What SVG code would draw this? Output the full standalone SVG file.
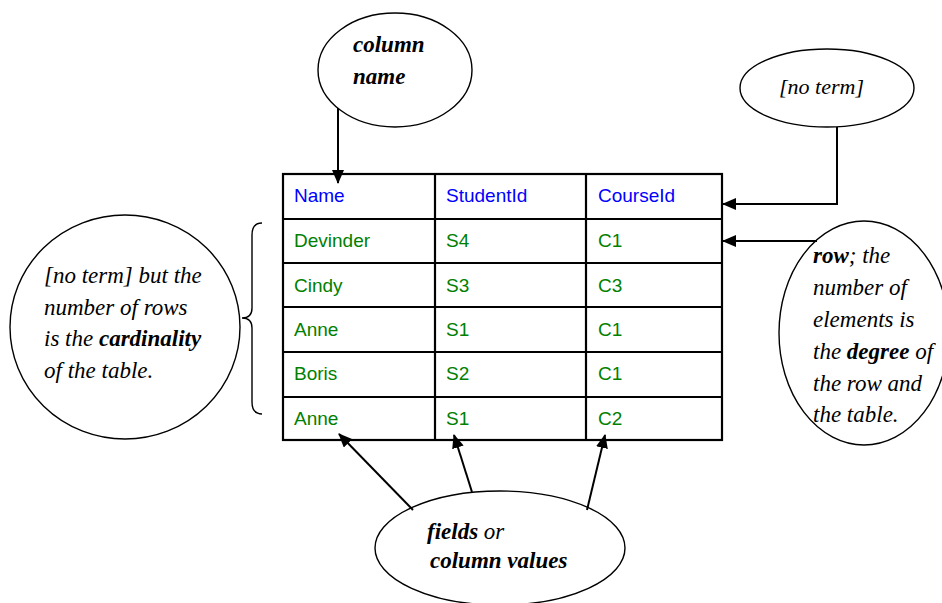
<svg xmlns="http://www.w3.org/2000/svg" width="942" height="603" viewBox="0 0 942 603">
<style>
.bub{fill:#fff;stroke:#000;stroke-width:1.4}
.lbl{font-family:"Liberation Serif","Times New Roman",serif;font-size:23px;font-style:italic;fill:#000}
.b{font-weight:bold}
.grid{fill:none;stroke:#000;stroke-width:2.2}
.hd{font-family:"Liberation Sans",Arial,sans-serif;font-size:19px;fill:#0000ff}
.dt{font-family:"Liberation Sans",Arial,sans-serif;font-size:19px;fill:#008000}
.con{fill:none;stroke:#000;stroke-width:2}
</style>
<defs>
<marker id="ah" markerUnits="userSpaceOnUse" markerWidth="14" markerHeight="12" refX="13" refY="6" orient="auto">
<path d="M0,0 L14,6 L0,12 Z" fill="#000"/>
</marker>
</defs>
<rect width="942" height="603" fill="#fff"/>
<g id="table">
<rect class="grid" x="283" y="174" width="439" height="266"/>
<path class="grid" d="M283,219H722M283,263H722M283,307H722M283,352H722M283,397H722M435,174V440M586,174V440"/>
<text class="hd" x="294" y="202">Name</text>
<text class="hd" x="446" y="202">StudentId</text>
<text class="hd" x="598" y="202">CourseId</text>
<text class="dt" x="294" y="247">Devinder</text>
<text class="dt" x="446" y="247">S4</text>
<text class="dt" x="598" y="247">C1</text>
<text class="dt" x="294" y="291.5">Cindy</text>
<text class="dt" x="446" y="291.5">S3</text>
<text class="dt" x="598" y="291.5">C3</text>
<text class="dt" x="294" y="336">Anne</text>
<text class="dt" x="446" y="336">S1</text>
<text class="dt" x="598" y="336">C1</text>
<text class="dt" x="294" y="380">Boris</text>
<text class="dt" x="446" y="380">S2</text>
<text class="dt" x="598" y="380">C1</text>
<text class="dt" x="294" y="424.5">Anne</text>
<text class="dt" x="446" y="424.5">S1</text>
<text class="dt" x="598" y="424.5">C2</text>
</g>
<g id="column-name">
<ellipse class="bub" cx="395" cy="70" rx="77" ry="57"/>
<text class="lbl b" x="353" y="52">column</text>
<text class="lbl b" x="353" y="84">name</text>
</g>
<g id="no-term-top">
<ellipse class="bub" cx="827" cy="88" rx="87" ry="39"/>
<text class="lbl" x="779" y="94" style="font-size:22px">[no term]</text>
</g>
<g id="cardinality">
<ellipse class="bub" cx="125" cy="327" rx="115" ry="112"/>
<text class="lbl" x="44" y="283">[no term] but the</text>
<text class="lbl" x="44" y="314.5">number of rows</text>
<text class="lbl" x="44" y="346">is the <tspan class="b">cardinality</tspan></text>
<text class="lbl" x="44" y="377.5">of the table.</text>
</g>
<g id="row">
<ellipse class="bub" cx="864" cy="333" rx="85" ry="112"/>
<text class="lbl" x="813" y="263"><tspan class="b">row</tspan>; the</text>
<text class="lbl" x="813" y="295">number of</text>
<text class="lbl" x="813" y="327">elements is</text>
<text class="lbl" x="813" y="359">the <tspan class="b">degree</tspan> of</text>
<text class="lbl" x="813" y="391">the row and</text>
<text class="lbl" x="813" y="422">the table.</text>
</g>
<g id="fields">
<ellipse class="bub" cx="500" cy="548" rx="125" ry="57"/>
<text class="lbl" x="427" y="539"><tspan class="b">fields</tspan> or</text>
<text class="lbl b" x="430" y="568">column values</text>
</g>
<g id="connectors">
<path class="con" d="M338,108V183" marker-end="url(#ah)"/>
<path class="con" d="M837,127V204H723" marker-end="url(#ah)"/>
<path class="con" d="M817,241H723" marker-end="url(#ah)"/>
<path class="con" d="M413,510L339,434" marker-end="url(#ah)"/>
<path class="con" d="M472,492L454,435" marker-end="url(#ah)"/>
<path class="con" d="M587,510L605,435" marker-end="url(#ah)"/>
<path fill="none" stroke="#000" stroke-width="1.4" d="M262,223Q252,223 252,235L252,308Q252,318 242,318Q252,318 252,328L252,402Q252,414 262,414"/>
</g>
</svg>
